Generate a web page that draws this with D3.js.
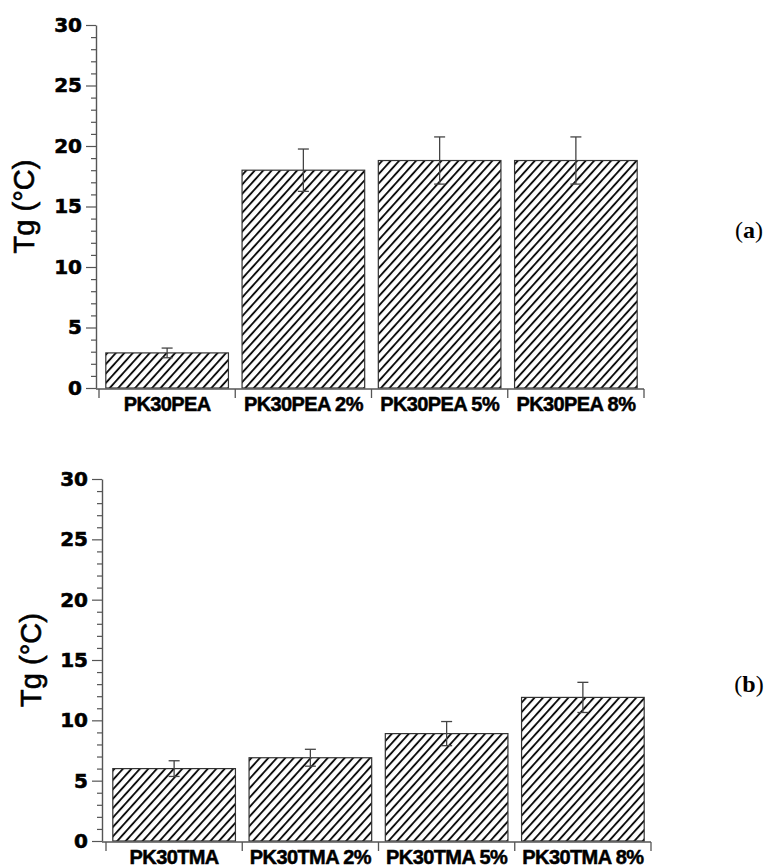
<!DOCTYPE html>
<html>
<head>
<meta charset="utf-8">
<script src="https://d3js.org/d3.v7.min.js"></script>
<style>
  html, body { margin: 0; padding: 0; background: #fff; }
  svg { display: block; }
</style>
</head>
<body>
<svg id="chart" width="768" height="867"></svg>
<script>
// ---- data ----
const categoriesA = ["PK30PEA", "PK30PEA 2%", "PK30PEA 5%", "PK30PEA 8%"];
const tgA = [2.9, 18.0, 18.8, 18.8];
const errA = [0.4, 1.75, 1.95, 1.95];

const categoriesB = ["PK30TMA", "PK30TMA 2%", "PK30TMA 5%", "PK30TMA 8%"];
const tgB = [6.0, 6.9, 8.9, 11.9];
const errB = [0.65, 0.7, 1.0, 1.25];

const yTicks = [0, 5, 10, 15, 20, 25, 30];
const yMinorTicks = d3.range(0, 31, 1);
const yTitle = "Tg (°C)";
const panelLetters = ["a", "b"];

// ---- drawing ----
const svg = d3.select("#chart");
const defs = svg.append("defs");
const pat = defs.append("pattern")
  .attr("id", "hatch")
  .attr("patternUnits", "userSpaceOnUse")
  .attr("width", 6.3).attr("height", 10)
  .attr("patternTransform", "rotate(42)");
pat.append("rect").attr("width", 6.3).attr("height", 10).attr("fill", "#fff");
pat.append("line")
  .attr("x1", 1).attr("x2", 1).attr("y1", 0).attr("y2", 10)
  .attr("stroke", "#000").attr("stroke-width", 1.8);

const axisColor = "#555";

function drawPanel(cfg) {
  const g = svg.append("g");
  const y = d3.scaleLinear().domain([0, 30]).range([cfg.y0, cfg.y30]);
  const x = d3.scaleBand().domain(cfg.cats).range([cfg.xStart, cfg.xEnd])
    .paddingInner(0.1).paddingOuter(0.05);

  // bars
  const data = cfg.cats.map((c, i) => ({ c, v: cfg.vals[i], e: cfg.errs[i] }));
  g.selectAll("rect.bar").data(data).join("rect")
    .attr("class", "bar")
    .attr("x", d => x(d.c))
    .attr("width", x.bandwidth())
    .attr("y", d => y(d.v))
    .attr("height", d => y(0) - y(d.v))
    .attr("fill", "url(#hatch)")
    .attr("stroke", "#333")
    .attr("stroke-width", 1.2);

  // error bars
  const eb = g.selectAll("g.err").data(data).join("g").attr("class", "err")
    .attr("stroke", "#444").attr("stroke-width", 1.3);
  const cx = d => x(d.c) + x.bandwidth() / 2;
  eb.append("line")
    .attr("x1", cx).attr("x2", cx)
    .attr("y1", d => y(d.v - d.e)).attr("y2", d => y(d.v + d.e));
  eb.append("line")
    .attr("x1", d => cx(d) - 5.5).attr("x2", d => cx(d) + 5.5)
    .attr("y1", d => y(d.v + d.e)).attr("y2", d => y(d.v + d.e));
  eb.append("line")
    .attr("x1", d => cx(d) - 5.5).attr("x2", d => cx(d) + 5.5)
    .attr("y1", d => y(d.v - d.e)).attr("y2", d => y(d.v - d.e));

  // y axis - minor ticks
  const yMinor = g.append("g")
    .attr("transform", `translate(${cfg.axisX},0)`)
    .call(d3.axisLeft(y).tickValues(yMinorTicks.filter(v => v % 5 !== 0)).tickSize(5).tickFormat(""));
  yMinor.select(".domain").remove();
  yMinor.selectAll("line").attr("stroke", axisColor).attr("stroke-width", 1.2);

  // y axis - major
  const yAx = g.append("g")
    .attr("transform", `translate(${cfg.axisX},0)`)
    .call(d3.axisLeft(y).tickValues(yTicks).tickSize(10).tickSizeOuter(0).tickPadding(4));
  yAx.select(".domain").attr("stroke", axisColor).attr("stroke-width", 1.4);
  yAx.selectAll(".tick line").attr("stroke", axisColor).attr("stroke-width", 1.2);
  yAx.selectAll(".tick text")
    .attr("fill", "#000")
    .attr("stroke", "#000").attr("stroke-width", 0.6)
    .attr("font-family", "'DejaVu Sans', sans-serif")
    .attr("font-weight", "bold")
    .attr("font-size", 20);

  // x axis
  const bounds = cfg.cats.map(c => x(c) - x.step() * x.paddingInner() / 2);
  bounds.push(cfg.xEnd);
  bounds[0] = cfg.xStart;
  g.append("line")
    .attr("x1", cfg.axisX).attr("x2", cfg.xEnd)
    .attr("y1", y(0) + 1).attr("y2", y(0) + 1)
    .attr("stroke", axisColor).attr("stroke-width", 1.3);
  g.selectAll("line.sep").data(bounds).join("line")
    .attr("class", "sep")
    .attr("x1", d => d).attr("x2", d => d)
    .attr("y1", y(0) + 1).attr("y2", y(0) + 10)
    .attr("stroke", axisColor).attr("stroke-width", 1.3);
  g.selectAll("text.xl").data(cfg.cats).join("text")
    .attr("class", "xl")
    .attr("x", d => x(d) + x.bandwidth() / 2)
    .attr("y", y(0) + 23)
    .attr("text-anchor", "middle")
    .attr("font-family", "'Liberation Sans', Arial, sans-serif")
    .attr("font-weight", "bold")
    .attr("font-size", 20)
    .attr("stroke", "#000").attr("stroke-width", 0.5)
    .attr("letter-spacing", -0.6)
    .text(d => d);

  // y title
  g.append("text")
    .attr("transform", `translate(${cfg.titleX},${(cfg.y0 + cfg.y30) / 2}) rotate(-90)`)
    .attr("text-anchor", "middle")
    .attr("font-family", "'Liberation Sans', Arial, sans-serif")
    .attr("font-size", 29)
    .attr("stroke", "#000").attr("stroke-width", 0.6)
    .text(yTitle);

  // panel letter
  const pl = g.append("text")
    .attr("x", 749).attr("y", cfg.letterY)
    .attr("text-anchor", "middle")
    .attr("font-family", "'Liberation Serif', 'DejaVu Serif', serif")
    .attr("font-size", 24);
  pl.append("tspan").text("(");
  pl.append("tspan").attr("font-weight", "bold").text(cfg.letter);
  pl.append("tspan").text(")");
}

drawPanel({
  cats: categoriesA, vals: tgA, errs: errA,
  y0: 388, y30: 25, axisX: 96, xStart: 99, xEnd: 644,
  titleX: 34, letter: panelLetters[0], letterY: 238
});
drawPanel({
  cats: categoriesB, vals: tgB, errs: errB,
  y0: 841, y30: 479, axisX: 102, xStart: 106, xEnd: 651,
  titleX: 41, letter: panelLetters[1], letterY: 692
});
</script>
</body>
</html>
